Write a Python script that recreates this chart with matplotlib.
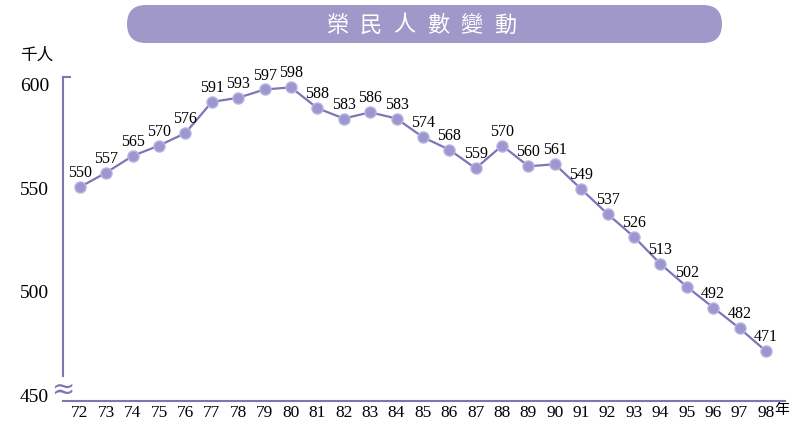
import matplotlib.pyplot as plt
from matplotlib.patches import FancyBboxPatch

years = list(range(72, 99))
people = [550, 557, 565, 570, 576, 591, 593, 597, 598, 588, 583, 586, 583, 574,
          568, 559, 570, 560, 561, 549, 537, 526, 513, 502, 492, 482, 471]
yticks = [450, 500, 550, 600]
title = '榮民人數變動'

purple = '#7c76b8'
cjk = ['Noto Sans CJK TC', 'DejaVu Sans']
serif = 'Liberation Serif'

fig = plt.figure(figsize=(7.89, 4.27), dpi=100)

# pixel-space layer for the title bar and loose texts
bg = fig.add_axes([0, 0, 1, 1])
bg.set_xlim(0, 789)
bg.set_ylim(427, 0)
bg.axis('off')
bg.add_patch(FancyBboxPatch((127, 6), 595, 38,
                            boxstyle='round,pad=0,rounding_size=19',
                            fc='#9f98c8', ec='none'))
for i, ch in enumerate(title):
    bg.text(337 + i * 33.6, 25, ch, family=cjk, fontsize=16,
            color='white', ha='center', va='center')
bg.text(20, 55, '千人', family=cjk, fontsize=12, va='center')
bg.text(774, 410, '年', family=cjk, fontsize=11, va='center')

ax = fig.add_axes([63/789, 1 - 402/427, 722/789, 324/427])
ax.patch.set_alpha(0)

ax.plot(years, people, color=purple, lw=1.6, zorder=2)
ax.plot(years, people, 'o', ms=8, mfc='#9d97d1', mec='#b9b4e0', mew=1, zorder=3)
for x, v in zip(years, people):
    ax.annotate(str(v), (x, v), xytext=(0, 5), textcoords='offset points',
                ha='center', va='bottom', fontsize=11.5, family=serif)

ax.set_xlim(71.36, 98.72)
ax.set_ylim(447, 603)
ax.set_xticks(years)
ax.set_xticklabels([str(y) for y in years], family=serif, fontsize=12.5)
ax.get_xticklabels()[-1].set_x(97.85)
ax.set_yticks(yticks)
ax.set_yticklabels([str(t) for t in yticks], family=serif, fontsize=14)
ax.tick_params(length=0)
ax.tick_params(axis='x', pad=2)
ax.tick_params(axis='y', pad=10)

for s in ['top', 'right']:
    ax.spines[s].set_visible(False)
ax.spines['left'].set_color(purple)
ax.spines['bottom'].set_color(purple)
ax.spines['left'].set_linewidth(1.5)
ax.spines['bottom'].set_linewidth(1.5)
ax.spines['left'].set_bounds(459, 603)
ax.plot([71.36, 71.62], [603, 603], color=purple, lw=1.5, clip_on=False)
ax.text(71.36, 453, '≈', color=purple, fontsize=20, ha='center', va='center',
        family='DejaVu Sans', clip_on=False)

fig.savefig('out.png', dpi=100)
